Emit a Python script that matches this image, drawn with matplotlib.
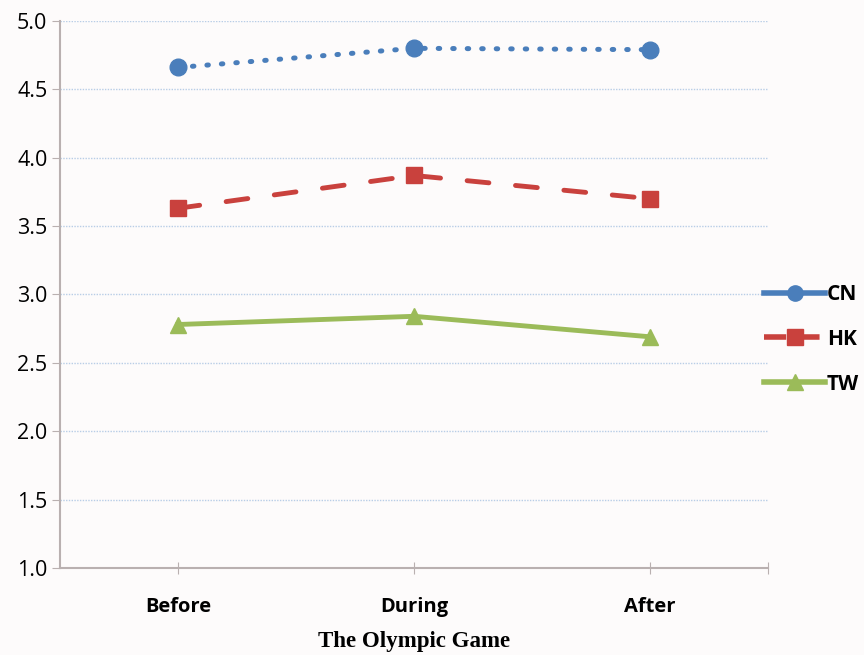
import matplotlib
matplotlib.use("Agg")
import matplotlib.pyplot as plt
from matplotlib.lines import Line2D

phases = ["Before", "During", "After"]
cn = [4.66, 4.80, 4.79]
hk = [3.63, 3.87, 3.70]
tw = [2.78, 2.84, 2.69]
y_ticks = [1.0, 1.5, 2.0, 2.5, 3.0, 3.5, 4.0, 4.5, 5.0]

fig = plt.figure(figsize=(8.64, 6.55), dpi=100, facecolor="#fdfbfb")
ax = fig.add_axes([0.0694, 0.133, 0.8196, 0.835])
ax.set_facecolor("#fdfbfb")

x = list(range(len(phases)))
ax.plot(x, cn, color="#4A7EBB", lw=3.6, linestyle=(0, (0.3, 2.6)),
        dash_capstyle="round", marker="o", ms=12, label="CN", zorder=3)
ax.plot(x, hk, color="#C9413D", lw=3.5, linestyle=(0, (4.5, 5.5)),
        dash_capstyle="round", marker="s", ms=12, label="HK", zorder=3)
ax.plot(x, tw, color="#9BBB59", lw=3.5, linestyle="-",
        marker="^", ms=12, label="TW", zorder=3)

ax.set_xlim(-0.5, 2.5)
ax.set_ylim(1.0, 5.0)
ax.set_yticks(y_ticks)
ax.set_yticklabels([f"{v:.1f}" for v in y_ticks], fontsize=15.5, fontfamily="Open Sans")
ax.set_xticks([0, 1, 2, 2.5])
ax.set_xticklabels(phases + [""], fontsize=14.5, fontweight="bold", fontfamily="Open Sans")
ax.tick_params(axis="x", direction="inout", length=8, color="#b9b0b0", pad=17)
ax.tick_params(axis="y", direction="out", length=6, color="#b9b0b0", pad=3)

ax.grid(axis="y", color="#b8cde6", linestyle=(0, (1, 1)), lw=1.0)
ax.set_axisbelow(True)
for s in ["top", "right"]:
    ax.spines[s].set_visible(False)
for s in ["left", "bottom"]:
    ax.spines[s].set_color("#b9b0b0")
    ax.spines[s].set_linewidth(1.5)

ax.set_xlabel("The Olympic Game", fontsize=16.5, fontweight="bold",
              fontfamily="Liberation Serif", labelpad=10)

handles = [
    Line2D([], [], color="#4A7EBB", lw=4, marker="o", ms=11),
    Line2D([], [], color="#C9413D", lw=4, linestyle=(0, (4, 2)), marker="s", ms=11),
    Line2D([], [], color="#9BBB59", lw=4, marker="^", ms=11),
]
leg = fig.legend(handles, ["CN", "HK", "TW"], loc="center left",
                 bbox_to_anchor=(0.863, 0.482), frameon=False,
                 handlelength=2.9, handletextpad=0.1, labelspacing=1.15,
                 prop={"family": "Open Sans", "weight": "bold", "size": 15})

fig.savefig("out.png", dpi=100, facecolor=fig.get_facecolor())
